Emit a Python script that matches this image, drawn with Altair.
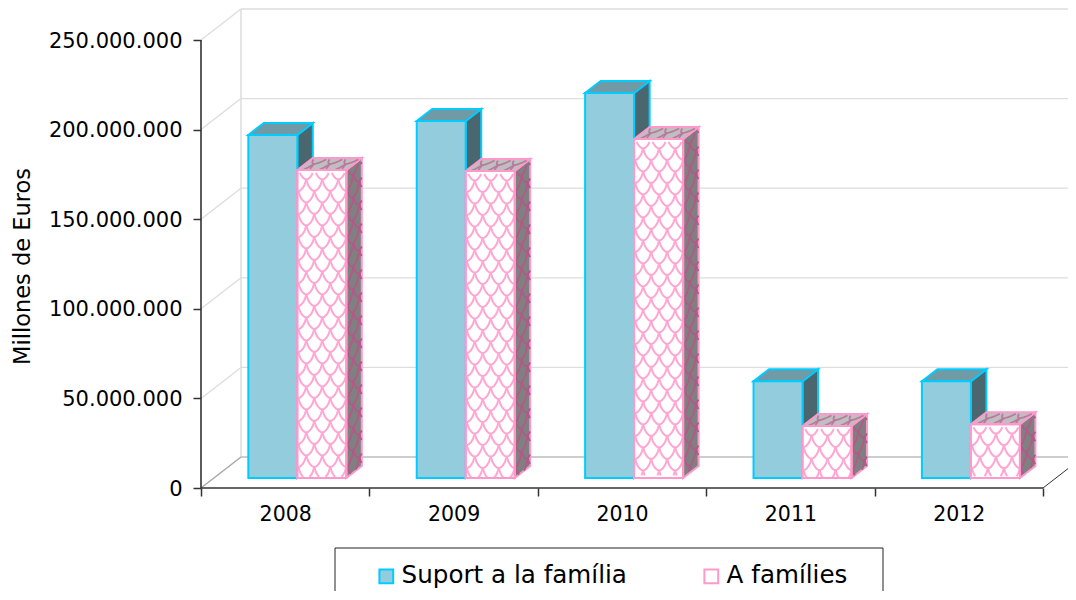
import json
import math
import altair as alt
import pandas as pd

alt.data_transformers.disable_max_rows()

YEARS = ["2008", "2009", "2010", "2011", "2012"]
SERIES = ["Suport a la família", "A famílies"]
SUPORT = [191.4e6, 199.2e6, 214.8e6, 54.0e6, 54.0e6]
FAMILIES = [171.9e6, 171.3e6, 189.2e6, 29.0e6, 30.0e6]
Y_TICKS = [0, 50e6, 100e6, 150e6, 200e6, 250e6]

# layout of the fake 3D projection, in screen pixels
UNIT = 168.4          # px per category
PX_V = 250e6 / 448    # value per px
WALL = (40, 31)
FLOOR = (13, 10)
DEPTH = (15.5, 12)
BAR_W = 49 / UNIT
BAR_START = 0.281
W, H = 867, 479
XMAX = W / UNIT
YMAX = H * PX_V
ux = lambda px: px / UNIT
uy = lambda px: px * PX_V

FONT = "DejaVu Sans"
BLUE, BLUE_STROKE, BLUE_TOP, BLUE_SIDE = "#93CDDD", "#00CCFF", "#6F9AA6", "#4A676F"
PINK_STROKE, GRAY_TOP, GRAY_SIDE = "#FF99CC", "#BFBFBF", "#808080"

xs = alt.Scale(domain=[0, XMAX], nice=False, zero=False)
ys = alt.Scale(domain=[0, YMAX], nice=False, zero=False)
X = lambda f="x": alt.X(f"{f}:Q", scale=xs, axis=None, title=None)
Y = lambda f="y": alt.Y(f"{f}:Q", scale=ys, axis=None, title=None)

fronts, sides, tops = [], [], []
for s, vals in enumerate([SUPORT, FAMILIES]):
    for i, v in enumerate(vals):
        x0 = i + BAR_START + s * BAR_W
        x1 = x0 + BAR_W
        b = uy(FLOOR[1])
        t = b + v
        fronts.append(dict(series=SERIES[s], s=s, x=x0, x2=x1, y=b, y2=t))
        for k in (0, 1):
            sides.append(dict(s=s, id=f"{s}-{i}", x=x1 + k * ux(DEPTH[0]),
                              y=b + k * uy(DEPTH[1]), y2=t + k * uy(DEPTH[1])))
            tops.append(dict(s=s, id=f"{s}-{i}", y=t + k * uy(DEPTH[1]),
                             x=x0 + k * ux(DEPTH[0]), x2=x1 + k * ux(DEPTH[0])))
fronts, sides, tops = map(pd.DataFrame, (fronts, sides, tops))


def scallops(w, h, to_data, gid, pw=16.0, ph=11.5):
    """fish-scale texture for one face, clipped to w x h local pixels"""
    rows = []
    run = 0
    for k in range(0, int(h / ph) + 2):
        v0 = h - k * ph + 2
        for j in range(-1, int(w / pw) + 2):
            u0 = j * pw + (k % 2) * pw / 2 + 1
            run += 1
            for n in range(11):
                a = n / 10
                u = u0 + a * pw
                v = v0 - ph * math.sin(math.pi * a) ** 0.7
                if 0 <= u <= w and 0 <= v <= h:
                    x, y = to_data(u, v)
                    rows.append(dict(g=f"{gid}-{run}", x=x, y=y, o=n))
                else:
                    run += 1
    return rows


pf, ps, pt = [], [], []
for i, v in enumerate(FAMILIES):
    x0 = i + BAR_START + BAR_W
    x1 = x0 + BAR_W
    b = uy(FLOOR[1])
    h = v / PX_V
    pf += scallops(49, h, lambda u, w, x0=x0, b=b: (x0 + ux(u), b + uy(w)), f"f{i}")
    ps += scallops(DEPTH[0], h, lambda u, w, x1=x1, b=b: (x1 + ux(u), b + uy(w + u * DEPTH[1] / DEPTH[0])), f"s{i}", pw=12.0)
    pt += scallops(49, DEPTH[1], lambda u, w, x0=x0, b=b, v=v: (x0 + ux(u + w * DEPTH[0] / DEPTH[1]), b + v + uy(w)), f"t{i}", ph=8.0)
pf, ps, pt = map(pd.DataFrame, (pf, ps, pt))

texture = lambda df, col, sw=1.8: alt.Chart(df).mark_line(color=col, strokeWidth=sw, interpolate="linear").encode(
    x=X(), y=Y(), detail="g:N", order="o:Q")

back_grid = pd.DataFrame(dict(y=[v + uy(WALL[1]) for v in Y_TICKS], x=ux(WALL[0]), x2=XMAX))
side_grid = pd.DataFrame(
    [dict(g=v, x=ux(WALL[0]) * k, y=v + k * uy(WALL[1])) for v in Y_TICKS for k in (0, 1)])
back_edge = pd.DataFrame(dict(x=[ux(WALL[0])], y=[uy(WALL[1])], y2=[YMAX]))
floor_right = pd.DataFrame(dict(x=[5, XMAX], y=[0, uy((XMAX - 5) * UNIT * WALL[1] / WALL[0])]))
x_ticks = pd.DataFrame(dict(x=list(range(6))))
x_labels = pd.DataFrame(dict(x=[i + 0.5 for i in range(5)]))
y_ticks = pd.DataFrame(dict(y=Y_TICKS))

layers = [
    alt.Chart(back_grid).mark_rule(color="#DDDDDD", strokeWidth=1.3).encode(x=X(), x2="x2:Q", y=Y()),
    alt.Chart(back_edge).mark_rule(color="#DDDDDD", strokeWidth=1.5).encode(x=X(), y=Y(), y2="y2:Q"),
    alt.Chart(side_grid).mark_line(color="#DDDDDD", strokeWidth=1.3).encode(x=X(), y=Y(), detail="g:N"),
    alt.Chart(side_grid[side_grid.g == 0]).mark_line(color="#AAAAAA", strokeWidth=1.2).encode(x=X(), y=Y()),
    alt.Chart(back_grid.iloc[[0]]).mark_rule(color="#C4C4C4", strokeWidth=1.3).encode(x=X(), x2="x2:Q", y=Y()),
    alt.Chart(floor_right).mark_line(color="#333333", strokeWidth=1).encode(x=X(), y=Y()),
    # axes
    alt.Chart(y_ticks).mark_rule(color="#333333", strokeWidth=1.6).encode(
        x=alt.datum(0, scale=xs, axis=None),
        y=alt.Y("min(y):Q", scale=ys, title="Millones de Euros", axis=alt.Axis(
            orient="left", values=Y_TICKS, domain=False, grid=False, tickSize=8, tickColor="#333333", tickWidth=1.5,
            labelFont=FONT, labelFontSize=21, labelColor="#000000", labelPadding=11, labelOffset=1,
            labelExpr="replace(format(datum.value, ','), /,/g, '.')",
            titleFont=FONT, titleFontSize=22.5, titleFontWeight="normal", titleColor="#000000",
            titleX=-179, titleY=257, titleAngle=-90, titleAlign="center", titleBaseline="middle")),
        y2=alt.Y2("max(y):Q")),
    alt.Chart(x_ticks).mark_rule(color="#333333", strokeWidth=1.6).encode(
        x=alt.X("min(x):Q", scale=xs, title=None, axis=alt.Axis(
            orient="bottom", values=list(range(6)), domain=False, grid=False, labels=False, tickSize=8,
            tickColor="#333333", tickWidth=1.5)),
        x2=alt.X2("max(x):Q"),
        y=alt.datum(0, scale=ys, axis=None)),
    alt.Chart(x_labels).mark_point(opacity=0).encode(
        x=alt.X("x:Q", scale=xs, title=None, axis=alt.Axis(
            orient="bottom", values=x_labels.x.tolist(), domain=False, grid=False, ticks=False, labelPadding=16,
            labelFont=FONT, labelFontSize=20.5, labelColor="#000000",
            labelExpr=f"{json.dumps(YEARS)}[floor(datum.value)]")),
        y=alt.datum(0, scale=ys, axis=None)),
    # bar faces
    alt.Chart(sides[sides.s == 0]).mark_area(color=BLUE_SIDE, stroke=BLUE_STROKE, strokeWidth=2).encode(
        x=X(), y=Y(), y2="y2:Q", detail="id:N"),
    alt.Chart(tops[tops.s == 0]).mark_area(color=BLUE_TOP, stroke=BLUE_STROKE, strokeWidth=2, orient="horizontal").encode(
        y=Y(), x=X(), x2="x2:Q", detail="id:N"),
    alt.Chart(sides[sides.s == 1]).mark_area(color=GRAY_SIDE, stroke=PINK_STROKE, strokeWidth=2).encode(
        x=X(), y=Y(), y2="y2:Q", detail="id:N"),
    alt.Chart(tops[tops.s == 1]).mark_area(color=GRAY_TOP, stroke=PINK_STROKE, strokeWidth=2, orient="horizontal").encode(
        y=Y(), x=X(), x2="x2:Q", detail="id:N"),
    texture(ps, "#B05A88"),
    texture(pt, "#BA7AA0"),
    alt.Chart(fronts).mark_rect(strokeWidth=2).encode(
        x=X(), x2="x2:Q", y=Y(), y2="y2:Q",
        fill=alt.Fill("series:N", sort=SERIES, scale=alt.Scale(domain=SERIES, range=[BLUE, "#FFFFFF"]),
                      legend=alt.Legend(orient="none", legendX=173, legendY=555, direction="horizontal",
                                        columns=2, title=None, padding=0, symbolType="square", symbolSize=190,
                                        symbolStrokeWidth=2, labelFont=FONT, labelFontSize=24.6,
                                        labelColor="#000000", columnPadding=72, labelOffset=3, labelLimit=400)),
        stroke=alt.Stroke("series:N", sort=SERIES, scale=alt.Scale(domain=SERIES, range=[BLUE_STROKE, PINK_STROKE]))),
    texture(pf, "#FFA6D2", 2),
    alt.Chart(fronts[fronts.s == 1]).mark_rect(fillOpacity=0, stroke=PINK_STROKE, strokeWidth=2).encode(
        x=X(), x2="x2:Q", y=Y(), y2="y2:Q"),
    # legend frame, running off the bottom of the picture
    alt.Chart(x_ticks.iloc[[0]]).mark_rect(fillOpacity=0, stroke="#222222", strokeWidth=1).encode(
        x=alt.value(134), x2=alt.value(682), y=alt.value(539), y2=alt.value(640)),
]

chart = (
    alt.layer(*layers)
    .resolve_axis(x="independent", y="independent")
    .properties(
        width=W, height=H,
        padding={"left": 193, "top": 1, "right": 0, "bottom": 103},
        autosize=alt.AutoSizeParams(type="none"),
    )
    .configure_view(stroke=None)
)
chart.save("out.html", embed_options={"renderer": "svg", "actions": False})
